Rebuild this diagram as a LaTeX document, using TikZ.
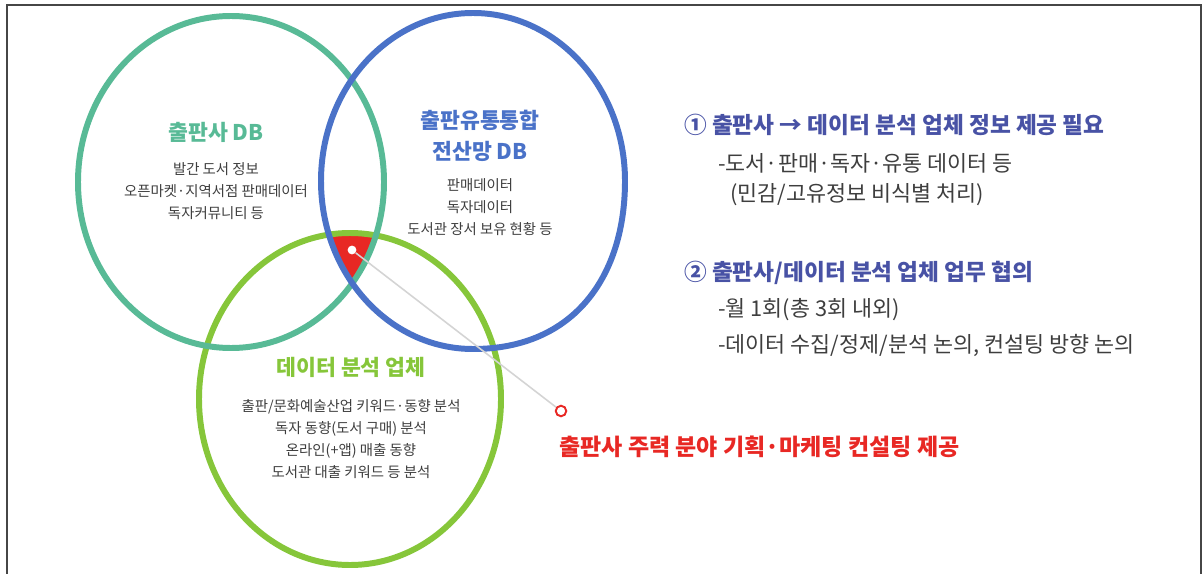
\documentclass[tikz,border=0pt]{standalone}
\usepackage{fontspec}
\setmainfont{Noto Sans CJK KR}
\usetikzlibrary{positioning}
\definecolor{dbteal}{RGB}{88,186,150}
\definecolor{dbblue}{RGB}{74,114,200}
\definecolor{dbgreen}{RGB}{134,198,58}
\definecolor{hotred}{RGB}{232,40,36}
\definecolor{stepblue}{RGB}{72,82,165}
\definecolor{bodygray}{RGB}{62,62,62}
\definecolor{framegray}{RGB}{70,70,70}

\begin{document}
\begin{tikzpicture}[x=0.02cm,y=-0.02cm,
	ring/.style={line width=3.4pt},
	head/.style={font=\fontsize{12.3}{18}\selectfont\bfseries,align=center},
	body/.style={font=\fontsize{8.2}{12.5}\selectfont,text=bodygray,align=center},
	stephead/.style={anchor=west,font=\fontsize{12.9}{15}\selectfont\bfseries,text=stepblue},
	stepbody/.style={anchor=west,font=\fontsize{12.4}{15}\selectfont,text=bodygray}]
	
	\useasboundingbox (0,0) rectangle (1203,574);
	
	% frame
	\draw[framegray,line width=1.4pt] (7,574) -- (7,5) -- (1201,5) -- (1201,574);
	
	% common area of the three sets
	\begin{scope}
		\clip (231,182) ellipse [x radius=153,y radius=166];
		\clip (473,181) ellipse [x radius=152,y radius=168];
		\fill[hotred] (350,399) ellipse [x radius=151,y radius=166];
	\end{scope}
	
	% the three sets
	\draw[ring,dbgreen] (350,399) ellipse [x radius=151,y radius=166];
	\draw[ring,dbteal] (231,182) ellipse [x radius=153,y radius=166];
	\draw[ring,dbblue] (321,181) .. controls (321,88) and (389,13) .. (473,13)
		.. controls (557,13) and (625,88) .. (625,181)
		.. controls (625,275) and (575,349) .. (473,349)
		.. controls (389,349) and (321,274) .. cycle;
	
	% publisher DB
	\node[head,text=dbteal] (pubtitle) at (216,132) {출판사 DB};
	\node[body] (publist) at (216,191) {발간 도서 정보\\오픈마켓·지역서점 판매데이터\\독자커뮤니티 등};
	
	% distribution DB
	\node[head,text=dbblue] (disttitle) at (480,136) {출판유통통합\\전산망 DB};
	\node[body] (distlist) at (480,207) {판매데이터\\독자데이터\\도서관 장서 보유 현황 등};
	
	% analysis company
	\node[head,text=dbgreen] (anatitle) at (351,367) {데이터 분석 업체};
	\node[body] (analist) at (351,439) {출판/문화예술산업 키워드·동향 분석\\독자 동향(도서 구매) 분석\\온라인(+앱) 매출 동향\\도서관 대출 키워드 등 분석};
	
	% callout
	\node[circle,fill=white,inner sep=0pt,minimum size=5pt] (hub) at (352,250) {};
	\node[circle,draw=hotred,fill=white,line width=1.1pt,inner sep=0pt,minimum size=6pt] (tip) at (561,411) {};
	\draw[black!17,line width=0.9pt] (hub) -- (tip);
	\node[anchor=west,font=\fontsize{13.1}{15}\selectfont\bfseries,text=hotred] (note) at (553,447) {출판사 주력 분야 기획·마케팅 컨설팅 제공};
	
	% steps
	\node[stephead] (item1) at (678,125) {① 출판사 → 데이터 분석 업체 정보 제공 필요};
	\node[stepbody] (item1a) at (712,163) {-도서·판매·독자·유통 데이터 등};
	\node[stepbody] (item1b) at (724,195) {(민감/고유정보 비식별 처리)};
	\node[stephead] (item2) at (678,273) {② 출판사/데이터 분석 업체 업무 협의};
	\node[stepbody] (item2a) at (712,310) {-월 1회(총 3회 내외)};
	\node[stepbody] (item2b) at (712,345) {-데이터 수집/정제/분석 논의, 컨설팅 방향 논의};
	
\end{tikzpicture}
\end{document}
